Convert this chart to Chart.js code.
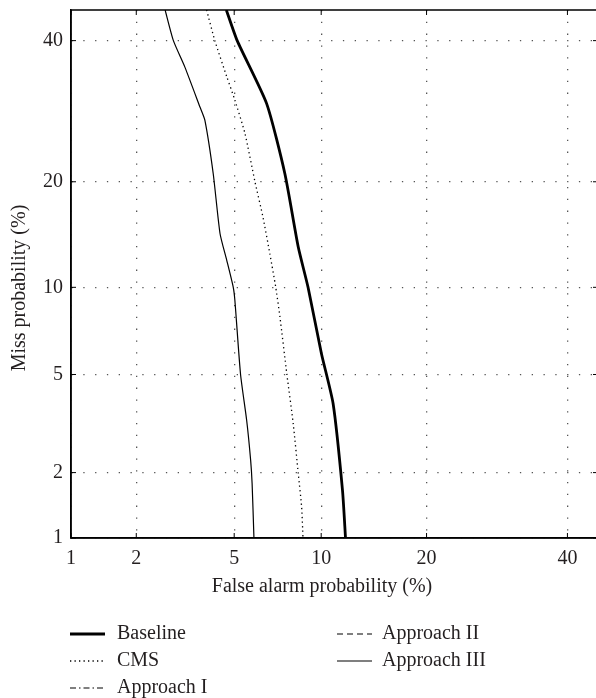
<!DOCTYPE html>
<html><head><meta charset="utf-8">
<script src="https://cdn.jsdelivr.net/npm/chart.js@4/dist/chart.umd.min.js"></script>
<style>html,body{margin:0;padding:0;overflow:hidden;background:#fff}#wrap{width:600px;height:698px}</style>
</head><body><div id="wrap"><canvas id="c" width="600" height="698"></canvas></div>
<script>
// ---- data (percent) ----
const TICK_VALUES = [1, 2, 5, 10, 20, 40];
const TICK_LABELS = ['1', '2', '5', '10', '20', '40'];
const AXIS_MIN = 1, AXIS_MAX = 45;
const X_TITLE = 'False alarm probability (%)';
const Y_TITLE = 'Miss probability (%)';
const SERIES_NAMES = ['Baseline', 'CMS', 'Approach I', 'Approach II', 'Approach III'];

const baselineFA   = [4.67, 5.13, 6.56, 7.59, 8.42, 9.07, 10.02, 10.9, 11.65, 11.9];
const baselineMiss = [45, 40, 30.3, 20.95, 13.27, 10, 5.96, 3.87, 1.67, 1];

const cmsFA   = [3.92, 4.22, 4.69, 5.03, 5.48, 5.96, 6.37, 6.73, 7.06, 7.30, 7.71, 8.10, 8.42, 8.64, 8.73];
const cmsMiss = [45, 40, 34.3, 30.8, 26.1, 20, 16.1, 12.7, 10, 8.0, 5, 3.22, 1.98, 1.40, 1];

const approach1FA = [], approach1Miss = [];
const approach2FA = [], approach2Miss = [];

const approach3FA   = [2.66, 2.88, 3.21, 3.69, 3.86, 4.16, 4.42, 4.69, 4.96, 5.03, 5.28, 5.56, 5.75, 5.82, 5.91];
const approach3Miss = [45, 40, 35.8, 29.8, 27.9, 20.95, 14.5, 12.1, 10, 9.07, 5, 3.32, 2.26, 1.79, 1];

// ---- inverse normal CDF (probit), for DET axes ----
function probit(p) {
  const a = [-3.969683028665376e+01, 2.209460984245205e+02, -2.759285104469687e+02, 1.383577518672690e+02, -3.066479806614716e+01, 2.506628277459239e+00];
  const b = [-5.447609879822406e+01, 1.615858368580409e+02, -1.556989798598866e+02, 6.680131188771972e+01, -1.328068155288572e+01];
  const c = [-7.784894002430293e-03, -3.223964580411365e-01, -2.400758277161838e+00, -2.549732539343734e+00, 4.374664141464968e+00, 2.938163982698783e+00];
  const d = [7.784695709041462e-03, 3.224671290700398e-01, 2.445134137142996e+00, 3.754408661907416e+00];
  const pl = 0.02425, ph = 1 - pl;
  let q, r;
  if (p < pl) { q = Math.sqrt(-2 * Math.log(p)); return (((((c[0]*q+c[1])*q+c[2])*q+c[3])*q+c[4])*q+c[5]) / ((((d[0]*q+d[1])*q+d[2])*q+d[3])*q+1); }
  if (p <= ph) { q = p - 0.5; r = q*q; return (((((a[0]*r+a[1])*r+a[2])*r+a[3])*r+a[4])*r+a[5])*q / (((((b[0]*r+b[1])*r+b[2])*r+b[3])*r+b[4])*r+1); }
  q = Math.sqrt(-2 * Math.log(1 - p)); return -(((((c[0]*q+c[1])*q+c[2])*q+c[3])*q+c[4])*q+c[5]) / ((((d[0]*q+d[1])*q+d[2])*q+d[3])*q+1);
}
const P = v => probit(v / 100);
const pts = (xs, ys) => xs.map((x, i) => ({ x: P(x), y: P(ys[i]) }));

const FONT = "'Liberation Serif', 'DejaVu Serif', serif";
const TXT = '#231f20';

const datasets = [
  { label: SERIES_NAMES[0], data: pts(baselineFA, baselineMiss), borderColor: '#000', borderWidth: 2.8, borderDash: [] },
  { label: SERIES_NAMES[1], data: pts(cmsFA, cmsMiss), borderColor: '#000', borderWidth: 1.3, borderDash: [1.3, 3.2] },
  { label: SERIES_NAMES[2], data: pts(approach1FA, approach1Miss), borderColor: '#000', borderWidth: 1.2, borderDash: [6, 3, 1.5, 3] },
  { label: SERIES_NAMES[3], data: pts(approach2FA, approach2Miss), borderColor: '#000', borderWidth: 1.2, borderDash: [6, 4] },
  { label: SERIES_NAMES[4], data: pts(approach3FA, approach3Miss), borderColor: '#000', borderWidth: 1.2, borderDash: [] }
].map(d => Object.assign(d, { pointRadius: 0, tension: 0.2, fill: false, borderCapStyle: 'butt' }));

function setTicks(scale) { scale.ticks = TICK_VALUES.map(v => ({ value: P(v) })); }

const framePlugin = {
  id: 'frame',
  afterDraw(chart) {
    const { ctx, chartArea: ca, scales } = chart;
    ctx.save();
    ctx.strokeStyle = '#000';
    ctx.lineWidth = 1.5;
    ctx.setLineDash([]);
    ctx.strokeRect(ca.left, ca.top, ca.right - ca.left, ca.bottom - ca.top);
    // inward tick marks
    ctx.lineWidth = 1;
    const L = 5;
    TICK_VALUES.forEach(v => {
      const x = scales.x.getPixelForValue(P(v));
      const y = scales.y.getPixelForValue(P(v));
      ctx.beginPath();
      ctx.moveTo(x, ca.bottom); ctx.lineTo(x, ca.bottom - L);
      ctx.moveTo(x, ca.top); ctx.lineTo(x, ca.top + L);
      ctx.moveTo(ca.left, y); ctx.lineTo(ca.left + L, y);
      ctx.moveTo(ca.right, y); ctx.lineTo(ca.right - L, y);
      ctx.stroke();
    });
    // axis titles
    ctx.fillStyle = TXT;
    ctx.font = '20px ' + FONT;
    ctx.textAlign = 'center';
    ctx.textBaseline = 'middle';
    ctx.fillText(X_TITLE, (ca.left + 573) / 2, 587);
    ctx.save();
    ctx.translate(20, 288);
    ctx.rotate(-Math.PI / 2);
    ctx.fillText(Y_TITLE, 0, 0);
    ctx.restore();
    // legend (two columns, column-major)
    const cols = [{ sx: 70, ex: 105, tx: 117 }, { sx: 337, ex: 372, tx: 382 }];
    const rows = [634, 661, 688];
    ctx.textAlign = 'left';
    chart.data.datasets.forEach((ds, i) => {
      const col = cols[Math.floor(i / 3)], y = rows[i % 3];
      ctx.beginPath();
      ctx.lineWidth = ds.borderWidth;
      ctx.setLineDash(ds.borderDash);
      ctx.strokeStyle = ds.borderColor;
      ctx.moveTo(col.sx, y); ctx.lineTo(col.ex, y);
      ctx.stroke();
      ctx.setLineDash([]);
      ctx.fillText(ds.label, col.tx, y);
    });
    ctx.restore();
  }
};

new Chart(document.getElementById('c'), {
  type: 'line',
  data: { datasets },
  options: {
    responsive: false,
    animation: false,
    devicePixelRatio: 1,
    layout: { padding: { top: 10, right: 2, left: 0, bottom: 0 } },
    plugins: { legend: { display: false }, tooltip: { enabled: false } },
    scales: {
      x: {
        type: 'linear', min: P(AXIS_MIN), max: P(AXIS_MAX),
        afterBuildTicks: setTicks,
        afterFit: s => { s.height = 160; s.paddingLeft = 0; s.paddingRight = 0; },
        grid: { color: '#555', lineWidth: 1.3, drawTicks: false },
        border: { display: true, color: '#000', width: 1.5, dash: [1.3, 10.5] },
        ticks: { padding: 9, color: TXT, font: { family: FONT, size: 20 }, callback: (v, i) => TICK_LABELS[i], maxRotation: 0, autoSkip: false }
      },
      y: {
        type: 'linear', min: P(AXIS_MIN), max: P(AXIS_MAX),
        afterBuildTicks: setTicks,
        afterFit: s => { s.width = 71; s.paddingTop = 0; s.paddingBottom = 0; },
        grid: { color: '#555', lineWidth: 1.3, drawTicks: false },
        border: { display: true, color: '#000', width: 1.5, dash: [1.3, 10.5] },
        ticks: { padding: 8, color: TXT, font: { family: FONT, size: 20 }, callback: (v, i) => TICK_LABELS[i], autoSkip: false }
      }
    }
  },
  plugins: [framePlugin]
});
</script></body></html>
